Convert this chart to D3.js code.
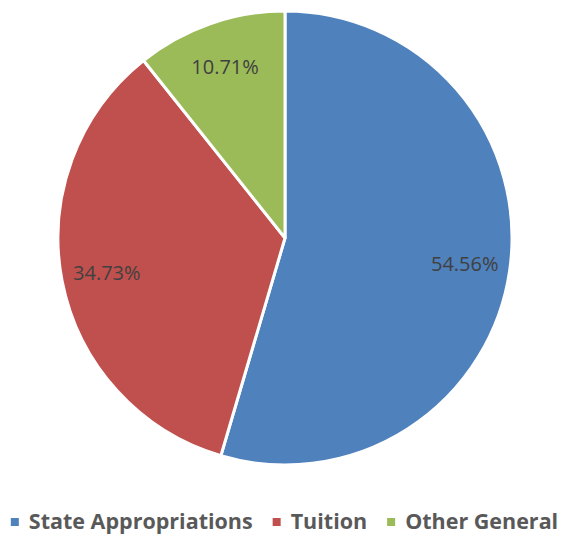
<!DOCTYPE html>
<html>
<head>
<meta charset="utf-8">
<script src="https://cdnjs.cloudflare.com/ajax/libs/d3/7.8.5/d3.min.js"></script>
<style>
  body { margin: 0; background: #fff; }
  svg { display: block; }
</style>
</head>
<body>
<div id="chart"></div>
<script>
// data
const categories = ["State Appropriations", "Tuition", "Other General"];
const shares = [54.56, 34.73, 10.71];
const colors = ["#4F81BD", "#C0504D", "#9BBB59"];

const width = 563, height = 534;
const cx = 285, cy = 238, radius = 227;

const svg = d3.select("#chart")
  .append("svg")
  .attr("width", width)
  .attr("height", height);

const g = svg.append("g")
  .attr("transform", "translate(" + cx + "," + cy + ")");

const pie = d3.pie().sort(null).value(d => d);
const arcs = pie(shares);

const arc = d3.arc().innerRadius(0).outerRadius(radius);
const labelArc = d3.arc().innerRadius(radius * 0.8).outerRadius(radius * 0.8);

g.selectAll("path")
  .data(arcs)
  .enter()
  .append("path")
  .attr("d", arc)
  .attr("fill", (d, i) => colors[i])
  .attr("stroke", "#fff")
  .attr("stroke-width", 3)
  .attr("stroke-linejoin", "round");

g.selectAll("text.lbl")
  .data(arcs)
  .enter()
  .append("text")
  .attr("class", "lbl")
  .attr("transform", d => "translate(" + labelArc.centroid(d) + ")")
  .attr("text-anchor", "middle")
  .attr("dy", "0.35em")
  .style("font-family", "'Open Sans', sans-serif")
  .style("font-size", "20px")
  .attr("fill", "#404040")
  .text(d => d.data.toFixed(2) + "%");

// legend
const legend = svg.append("g");
const legendY = 521;
const gap = 20, sq = 8, sqGap = 10;
const items = [];
categories.forEach((c, i) => {
  const it = legend.append("g");
  it.append("rect")
    .attr("x", 0)
    .attr("y", -3)
    .attr("width", sq)
    .attr("height", sq)
    .attr("fill", colors[i]);
  const t = it.append("text")
    .attr("x", sq + sqGap)
    .attr("dy", "0.35em")
    .style("font-family", "'Open Sans', sans-serif")
    .style("font-weight", "bold")
    .style("font-size", "21.5px")
    .attr("fill", "#595959")
    .text(c);
  const w = sq + sqGap + t.node().getComputedTextLength();
  items.push({ it, w });
});
const total = d3.sum(items, d => d.w) + gap * (items.length - 1);
let x = (width - total) / 2 + 3;
items.forEach(d => {
  d.it.attr("transform", "translate(" + x + "," + legendY + ")");
  x += d.w + gap;
});
</script>
</body>
</html>
